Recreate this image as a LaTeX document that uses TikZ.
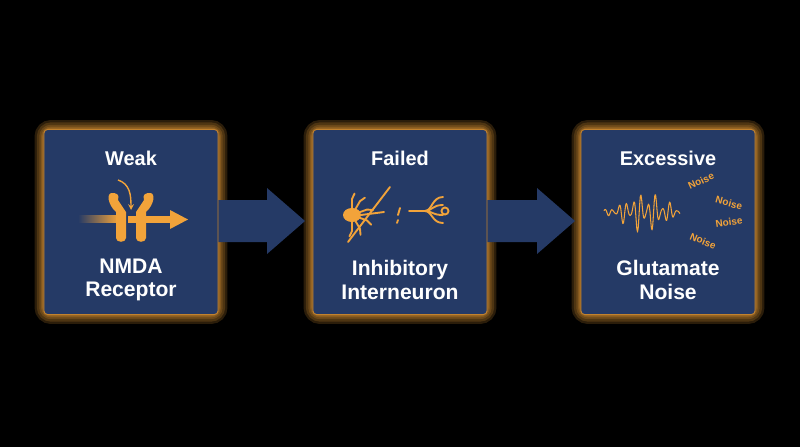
\documentclass[tikz,border=0pt]{standalone}
\usepackage{fontspec}
\setmainfont{Liberation Sans}
\usetikzlibrary{calc}
\usetikzlibrary{shapes}
\usetikzlibrary{arrows}
\usetikzlibrary{positioning}
\definecolor{navy}{HTML}{253A66}
\definecolor{amber}{HTML}{F2A33A}
\tikzset{
  box/.style = {rectangle, rounded corners = 3pt, fill = navy, draw = amber!80!black, line width = 0.8pt, minimum width = 5.22cm, minimum height = 5.55cm},
  glow/.style = {rectangle, rounded corners = 6pt, draw = amber, line width = #1, opacity = 0.18, minimum width = 5.22cm, minimum height = 5.55cm},
  title/.style = {text = white, font = \fontsize{17}{20}\selectfont\bfseries},
  label/.style = {text = white, font = \fontsize{18}{20}\selectfont\bfseries, align = center},
  icon/.style = {draw = amber, line width = 1.6pt, line cap = round},
  noise/.style = {text = amber, font = \fontsize{8.5}{9}\selectfont\bfseries, inner sep = 0pt}
}
\begin{document}
\begin{tikzpicture}[x=0.03cm, y=-0.03cm]
\fill[black] (0,0) rectangle (800,447);
\useasboundingbox (0,0) rectangle (800,447);
% glowing frames
\foreach \x/\n in {131/b1, 400/b2, 668/b3} {
  \foreach \w in {16pt, 12pt, 8pt, 5pt, 3pt}
    \node[glow = \w] at (\x,222) {};
}
% block arrows
\foreach \a/\b in {218/305, 487/575}
  \fill[navy] (\a-2,200) -- (\b-38,200) -- (\b-38,188) -- (\b,221) -- (\b-38,254) -- (\b-38,242) -- (\a-2,242) -- cycle;
\draw (131,222) node[box, name = b1]{};
\draw (400,222) node[box, name = b2]{};
\draw (668,222) node[box, name = b3]{};
\node[title] (t1) at (131,158) {Weak};
\node[title] (t2) at (400,158) {Failed};
\node[title] (t3) at (668,158) {Excessive};
\node[label] (l1) at (131,280) {NMDA\\Receptor};
\node[label] (l2) at (400,280) {Inhibitory\\Interneuron};
\node[label] (l3) at (668,280) {Glutamate\\Noise};
% receptor icon
\shade[left color = navy, right color = amber] (78,215) rectangle (118,222);
\fill[amber] (112,193) .. controls (106,193) and (108,205) .. (116,212) -- (116,238) .. controls (116,243) and (126,243) .. (126,238) -- (126,212) -- (118,200) .. controls (120,194) and (116,193) .. (112,193) -- cycle;
\fill[amber] (150,193) .. controls (156,193) and (154,205) .. (146,212) -- (146,238) .. controls (146,243) and (136,243) .. (136,238) -- (136,212) -- (144,200) .. controls (142,194) and (146,193) .. (150,193) -- cycle;
\fill[amber] (128,216) rectangle (174,223);
\fill[amber] (170,210) -- (188,219.5) -- (170,229) -- cycle;
\draw[amber, line width = 1.2pt, ->, >=stealth] (118,180) .. controls (130,184) and (131,195) .. (131,210);
% interneuron icon
\begin{scope}[icon]
  \fill[amber] (352,215) ellipse (9 and 7);
  \foreach \ang in {120, 160, 200, 240, 90, 270}
    \draw (352,215) -- ++(\ang:-16) -- ++(\ang+25:-6);
  \draw (361,215) -- (384,212);
  \draw (348,242) -- (390,187);
  \draw (400,208) -- (398,215);
  \draw (398,220) -- (397,223);
  \draw (409,211) -- (425,211);
  \foreach \d in {-14, -6, 4, 12}
    \draw (425,211) .. controls (432,211) and (432,211+\d) .. (443,211+\d);
  \draw (445,211) circle (3.5);
\end{scope}
% noise icon
\draw[amber, line width = 0.9pt, line join = round] plot[domain=-46:30, samples=110] ({650+\x}, {212 + 22*exp(-((\x+5)/28)^2)*sin(\x*50)*(0.6+0.4*sin(\x*23))});
\node[noise, rotate = 25] (n1) at (701,181) {Noise};
\node[noise, rotate = -15] (n2) at (729,203) {Noise};
\node[noise, rotate = 8] (n3) at (729,222) {Noise};
\node[noise, rotate = -22] (n4) at (703,241) {Noise};
\end{tikzpicture}
\end{document}
